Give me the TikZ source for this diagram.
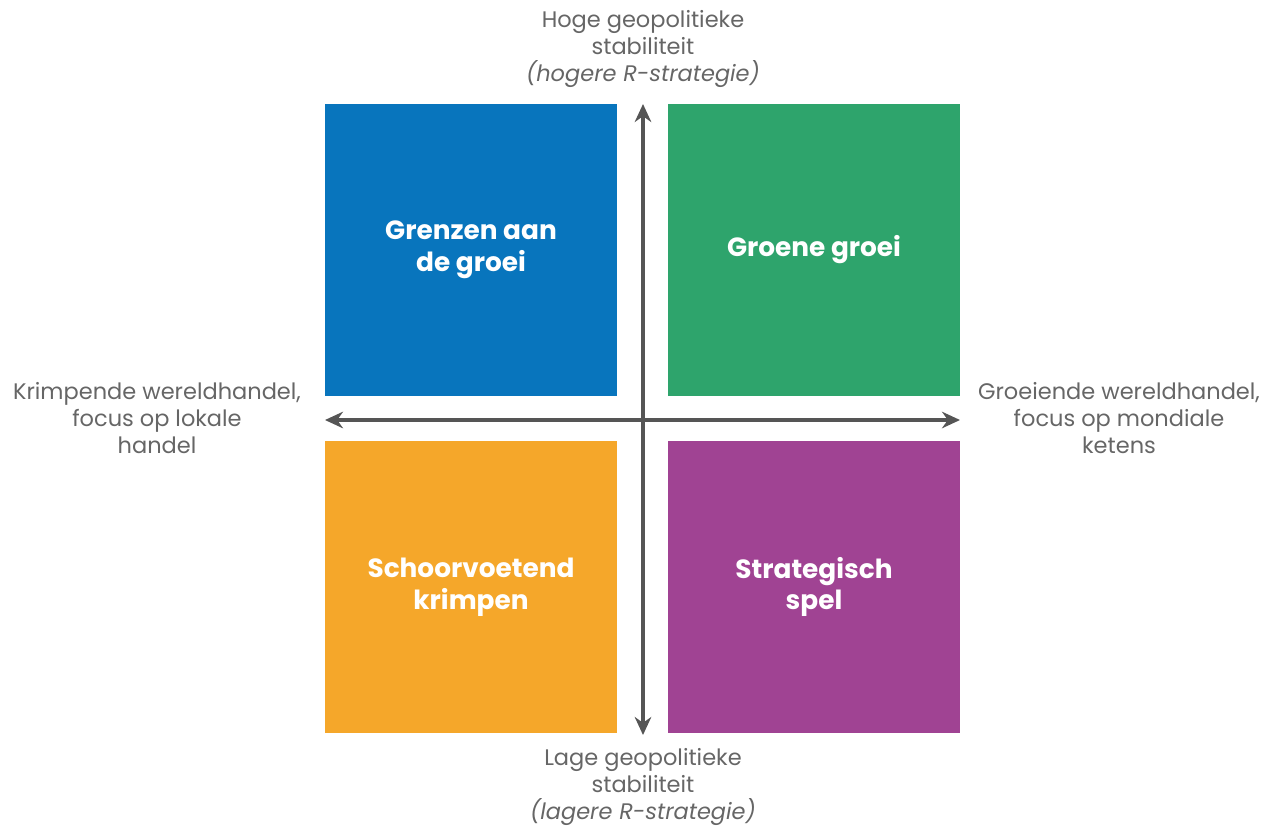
\documentclass[tikz,border=0pt]{standalone}
\usepackage{fontspec}
\setmainfont{Poppins}
\usetikzlibrary{arrows.meta}
\usetikzlibrary{positioning}
\definecolor{qblue}{RGB}{8,117,189}
\definecolor{qgreen}{RGB}{46,164,108}
\definecolor{qorange}{RGB}{245,167,42}
\definecolor{qpurple}{RGB}{160,67,147}
\definecolor{axisgray}{RGB}{85,85,85}
\definecolor{labelgray}{RGB}{102,102,102}
\tikzset{>={Stealth[length=3.6mm,width=3.3mm]}}

\begin{document}
\begin{tikzpicture}[x=0.02cm,y=-0.02cm,
	quad/.style={minimum size=5.84cm, inner sep=0pt, text=white, align=center,
		font=\fontsize{15}{18}\selectfont\bfseries},
	axislabel/.style={text=labelgray, align=center, inner sep=0pt,
		font=\fontsize{12.8}{15.3}\selectfont}]
	\useasboundingbox (0,0) rectangle (1272,826);
	% the four scenarios
	\node[quad, fill=qblue] (grenzen) at (471,250) {Grenzen aan\\de groei};
	\node[quad, fill=qgreen] (groen) at (814,250) {Groene groei};
	\node[quad, fill=qorange] (krimp) at (471,587) {Schoorvoetend\\krimpen};
	\node[quad, fill=qpurple] (spel) at (814,587) {Strategisch\\spel};
	% axis ends
	\coordinate (up) at (643,104);
	\coordinate (down) at (643,735);
	\coordinate (left) at (325,420);
	\coordinate (right) at (960,420);
	\draw[<->, line width=2.3pt, axisgray] (up) -- (down);
	\draw[<->, line width=2.3pt, axisgray] (left) -- (right);
	% axis labels
	\node[axislabel] (hoog) at (643,49) {Hoge geopolitieke\\stabiliteit\\\textit{(hogere R-strategie)}};
	\node[axislabel] (laag) at (643,787) {Lage geopolitieke\\stabiliteit\\\textit{(lagere R-strategie)}};
	\node[axislabel] (krimpend) at (157,418) {Krimpende wereldhandel,\\focus op lokale\\handel};
	\node[axislabel] (groeiend) at (1119,418) {Groeiende wereldhandel,\\focus op mondiale\\ketens};
\end{tikzpicture}
\end{document}
